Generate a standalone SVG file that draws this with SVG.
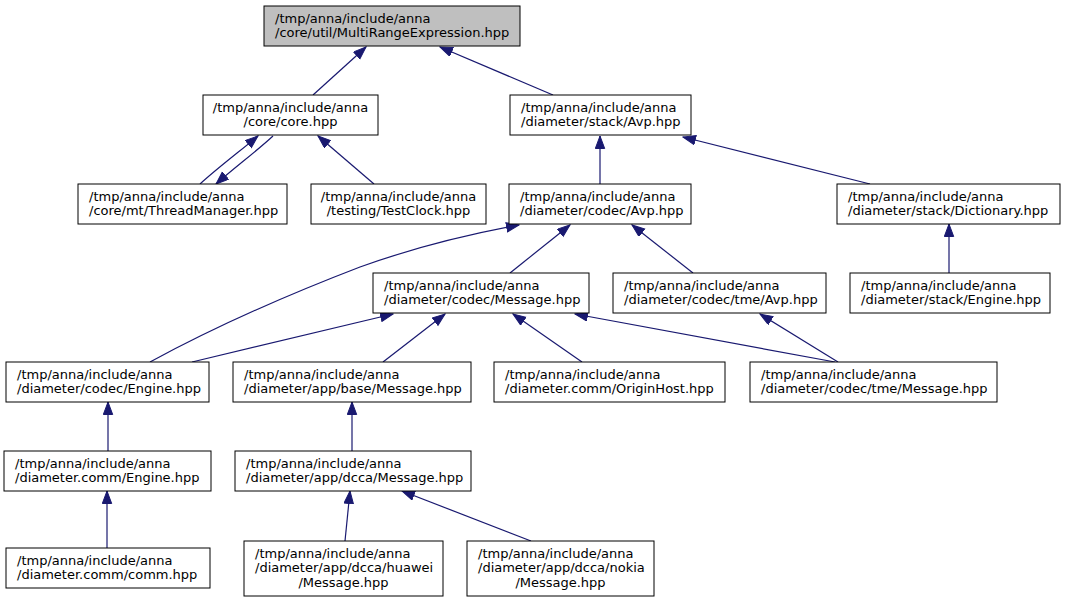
<svg xmlns="http://www.w3.org/2000/svg" width="1065" height="603" viewBox="0 0 1065 603">
<style>
.n rect{fill:#ffffff;stroke:#000000;stroke-width:1}
.n.root rect{fill:#bfbfbf}
.n text{font-family:"DejaVu Sans","Liberation Sans",sans-serif;font-size:13px;fill:#000000}
.n text.c{text-anchor:middle}
.e path{fill:none;stroke:#191970;stroke-width:1.2}
</style>
<defs>
<marker id="ah" markerUnits="userSpaceOnUse" markerWidth="14" markerHeight="11" refX="13" refY="5" orient="auto">
<path d="M0.5,0.3 L13,5 L0.5,9.7 Z" fill="#191970" stroke="#191970" stroke-width="1"/>
</marker>
</defs>
<rect width="1065" height="603" fill="#ffffff"/>
<g id="connectors" class="e">
<path d="M313,95 L366,47" marker-end="url(#ah)"/>
<path d="M553,95 L440,47" marker-end="url(#ah)"/>
<path d="M200,184 C215,170 240,151 258,136" marker-end="url(#ah)"/>
<path d="M273,136 C258,150 234,168 216,184" marker-end="url(#ah)"/>
<path d="M374,184 L318,136" marker-end="url(#ah)"/>
<path d="M600,184 L600,136" marker-end="url(#ah)"/>
<path d="M870,184 L683,137" marker-end="url(#ah)"/>
<path d="M150,362 C220,324 300,290 360,267 C410,249 470,234 519,225" marker-end="url(#ah)"/>
<path d="M510,273 L570,225" marker-end="url(#ah)"/>
<path d="M693,273 L632,225" marker-end="url(#ah)"/>
<path d="M949,273 L949,224" marker-end="url(#ah)"/>
<path d="M192,362 L393,314" marker-end="url(#ah)"/>
<path d="M383,362 L445,314" marker-end="url(#ah)"/>
<path d="M582,362 L513,314" marker-end="url(#ah)"/>
<path d="M835,362 L575,314" marker-end="url(#ah)"/>
<path d="M838,362 L760,314" marker-end="url(#ah)"/>
<path d="M108,451 L108,402" marker-end="url(#ah)"/>
<path d="M352,451 L352,402" marker-end="url(#ah)"/>
<path d="M107,548 L107,491" marker-end="url(#ah)"/>
<path d="M345,541 L350,491" marker-end="url(#ah)"/>
<path d="M531,541 L402,491" marker-end="url(#ah)"/>
</g>
<g id="node_root" class="n root"><rect x="264" y="6" width="256" height="40"/><text x="275" y="22.5">/tmp/anna/include/anna</text><text x="275" y="37">/core/util/MultiRangeExpression.hpp</text></g>
<g id="node_core" class="n"><rect x="203" y="95" width="175" height="40"/><text class="c" x="290.5" y="111.5">/tmp/anna/include/anna</text><text class="c" x="290.5" y="126">/core/core.hpp</text></g>
<g id="node_stack_avp" class="n"><rect x="510" y="95" width="181" height="40"/><text x="521" y="111.5">/tmp/anna/include/anna</text><text x="521" y="126">/diameter/stack/Avp.hpp</text></g>
<g id="node_thread" class="n"><rect x="78" y="184" width="209" height="40"/><text x="89" y="200.5">/tmp/anna/include/anna</text><text x="89" y="215">/core/mt/ThreadManager.hpp</text></g>
<g id="node_testclock" class="n"><rect x="311" y="184" width="175" height="40"/><text class="c" x="398.5" y="200.5">/tmp/anna/include/anna</text><text class="c" x="398.5" y="215">/testing/TestClock.hpp</text></g>
<g id="node_codec_avp" class="n"><rect x="509" y="184" width="182" height="40"/><text x="520" y="200.5">/tmp/anna/include/anna</text><text x="520" y="215">/diameter/codec/Avp.hpp</text></g>
<g id="node_dictionary" class="n"><rect x="837" y="184" width="223" height="40"/><text x="848" y="200.5">/tmp/anna/include/anna</text><text x="848" y="215">/diameter/stack/Dictionary.hpp</text></g>
<g id="node_codec_message" class="n"><rect x="373" y="273" width="216" height="40"/><text x="384" y="289.5">/tmp/anna/include/anna</text><text x="384" y="304">/diameter/codec/Message.hpp</text></g>
<g id="node_tme_avp" class="n"><rect x="613" y="273" width="213" height="40"/><text x="624" y="289.5">/tmp/anna/include/anna</text><text x="624" y="304">/diameter/codec/tme/Avp.hpp</text></g>
<g id="node_stack_engine" class="n"><rect x="850" y="273" width="200" height="40"/><text x="861" y="289.5">/tmp/anna/include/anna</text><text x="861" y="304">/diameter/stack/Engine.hpp</text></g>
<g id="node_codec_engine" class="n"><rect x="6" y="362" width="203" height="40"/><text x="17" y="378.5">/tmp/anna/include/anna</text><text x="17" y="393">/diameter/codec/Engine.hpp</text></g>
<g id="node_base_message" class="n"><rect x="233" y="362" width="238" height="40"/><text x="244" y="378.5">/tmp/anna/include/anna</text><text x="244" y="393">/diameter/app/base/Message.hpp</text></g>
<g id="node_originhost" class="n"><rect x="494" y="362" width="231" height="40"/><text x="505" y="378.5">/tmp/anna/include/anna</text><text x="505" y="393">/diameter.comm/OriginHost.hpp</text></g>
<g id="node_tme_message" class="n"><rect x="750" y="362" width="247" height="40"/><text x="761" y="378.5">/tmp/anna/include/anna</text><text x="761" y="393">/diameter/codec/tme/Message.hpp</text></g>
<g id="node_comm_engine" class="n"><rect x="4" y="451" width="207" height="40"/><text x="15" y="467.5">/tmp/anna/include/anna</text><text x="15" y="482">/diameter.comm/Engine.hpp</text></g>
<g id="node_dcca_message" class="n"><rect x="235" y="451" width="236" height="40"/><text x="246" y="467.5">/tmp/anna/include/anna</text><text x="246" y="482">/diameter/app/dcca/Message.hpp</text></g>
<g id="node_comm" class="n"><rect x="6" y="548" width="204" height="40"/><text x="17" y="564.5">/tmp/anna/include/anna</text><text x="17" y="579">/diameter.comm/comm.hpp</text></g>
<g id="node_huawei" class="n"><rect x="244" y="541" width="199" height="55"/><text x="255" y="557.5">/tmp/anna/include/anna</text><text x="255" y="572">/diameter/app/dcca/huawei</text><text class="c" x="343.5" y="586.5">/Message.hpp</text></g>
<g id="node_nokia" class="n"><rect x="467" y="541" width="187" height="55"/><text x="478" y="557.5">/tmp/anna/include/anna</text><text x="478" y="572">/diameter/app/dcca/nokia</text><text class="c" x="560.5" y="586.5">/Message.hpp</text></g>
</svg>
